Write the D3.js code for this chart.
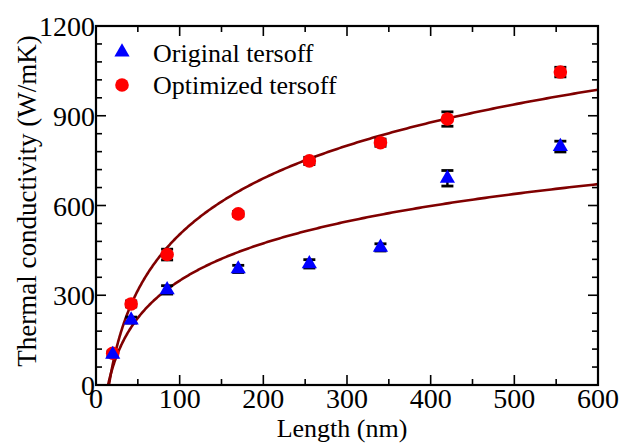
<!DOCTYPE html>
<html>
<head>
<meta charset="utf-8">
<script src="https://cdn.jsdelivr.net/npm/d3@7"></script>
<style>
  html, body { margin: 0; padding: 0; background: #fff; }
  svg { display: block; }
</style>
</head>
<body>
<svg id="chart" width="622" height="443"></svg>
<script>
// Sample lengths (nm)
const lengthNm = [20, 42, 85, 170, 255, 340, 420, 555];
// Thermal conductivity (W/mK) with the original Tersoff potential
const originalK   = [102, 217, 318, 388, 405, 460, 691, 797];
const originalErr = [8, 10, 14, 12, 14, 12, 26, 18];
// Thermal conductivity (W/mK) with the optimized Tersoff potential
const optimizedK   = [106, 271, 436, 572, 749, 810, 889, 1046];
const optimizedErr = [8, 10, 18, 8, 12, 12, 24, 16];
// Logarithmic fits k = a * ln(L / L0)
const fitOriginal  = [180, 14.4];
const fitOptimized = [270, 15.5];

const xTicks = [0, 100, 200, 300, 400, 500, 600];
const yTicks = [0, 300, 600, 900, 1200];
const seriesNames = ["Original tersoff", "Optimized tersoff"];

const plotL = 96, plotR = 598, plotT = 26, plotB = 385;
const serif = "'Liberation Serif', 'Times New Roman', Times, 'DejaVu Serif', serif";

const svg = d3.select("#chart");
const x = d3.scaleLinear().domain([0, 600]).range([plotL, plotR]);
const y = d3.scaleLinear().domain([0, 1200]).range([plotB, plotT]);

svg.append("defs").append("clipPath").attr("id", "plotClip")
  .append("rect").attr("x", plotL).attr("y", plotT)
  .attr("width", plotR - plotL).attr("height", plotB - plotT);

// Fit curves
const fitColor = "#800000";
const sampleL = d3.range(0, 401).map(i => 12 * Math.pow(600 / 12, i / 400));
const line = d3.line().x(d => x(d[0])).y(d => y(d[1]));
[fitOptimized, fitOriginal].forEach(([a, L0]) => {
  svg.append("path")
    .attr("clip-path", "url(#plotClip)")
    .attr("d", line(sampleL.map(L => [L, Math.max(a * Math.log(L / L0), -100)])))
    .attr("fill", "none")
    .attr("stroke", fitColor)
    .attr("stroke-width", 2.6);
});

// Error bars
function errorBars(vals, errs) {
  const g = svg.append("g").attr("stroke", "#000");
  lengthNm.forEach((L, i) => {
    const cx = x(L), y1 = y(vals[i] - errs[i]), y2 = y(vals[i] + errs[i]);
    g.append("line").attr("x1", cx).attr("x2", cx).attr("y1", y1).attr("y2", y2)
      .attr("stroke-width", 2.4);
    [y1, y2].forEach(yy => {
      g.append("line").attr("x1", cx - 6).attr("x2", cx + 6).attr("y1", yy).attr("y2", yy)
        .attr("stroke-width", 2.8);
    });
  });
}
errorBars(optimizedK, optimizedErr);
errorBars(originalK, originalErr);

// Markers
const tri = d3.symbol().type(d3.symbolTriangle).size(100);
svg.append("g").selectAll("circle").data(lengthNm).join("circle")
  .attr("cx", d => x(d))
  .attr("cy", (d, i) => y(optimizedK[i]))
  .attr("r", 6.8)
  .attr("fill", "#ff0000");
svg.append("g").selectAll("path").data(lengthNm).join("path")
  .attr("d", tri)
  .attr("transform", (d, i) => `translate(${x(d)},${y(originalK[i])})`)
  .attr("fill", "#0000ff");

// Axes: ticks point inward on all four sides
const frame = svg.append("g").attr("stroke", "#000").attr("stroke-width", 1.6);
function axisTicks(axis, scale, vals, len, pos) {
  vals.forEach(v => {
    const p = scale(v);
    if (axis === "x") {
      frame.append("line").attr("x1", p).attr("x2", p)
        .attr("y1", pos).attr("y2", pos === plotB ? pos - len : pos + len);
    } else {
      frame.append("line").attr("y1", p).attr("y2", p)
        .attr("x1", pos).attr("x2", pos === plotL ? pos + len : pos - len);
    }
  });
}
const xMinor = d3.range(50, 600, 100);
const yMinor = d3.range(0, 1200, 60).filter(v => v % 300 !== 0);
[plotB, plotT].forEach(p => {
  axisTicks("x", x, xTicks, 10, p);
  axisTicks("x", x, xMinor, 6, p);
});
[plotL, plotR].forEach(p => {
  axisTicks("y", y, yTicks, 10, p);
  axisTicks("y", y, yMinor, 6, p);
});
frame.append("rect")
  .attr("x", plotL).attr("y", plotT)
  .attr("width", plotR - plotL).attr("height", plotB - plotT)
  .attr("fill", "none").attr("stroke-width", 2.2);

// Tick labels
svg.append("g").selectAll("text").data(xTicks).join("text")
  .attr("x", d => x(d)).attr("y", plotB + 23)
  .attr("text-anchor", "middle")
  .style("font-family", serif).style("font-size", "28px")
  .text(d => d);
svg.append("g").selectAll("text").data(yTicks).join("text")
  .attr("x", plotL - 1).attr("y", d => y(d) + 10)
  .attr("text-anchor", "end")
  .style("font-family", serif).style("font-size", "28px")
  .text(d => d);

// Axis titles
svg.append("text")
  .attr("x", 342).attr("y", 437)
  .attr("text-anchor", "middle")
  .style("font-family", serif).style("font-size", "26px")
  .text("Length (nm)");
svg.append("text")
  .attr("transform", "translate(36,201) rotate(-90)")
  .attr("text-anchor", "middle")
  .style("font-family", serif).style("font-size", "27px")
  .text("Thermal conductivity (W/mK)");

// Legend
const legend = svg.append("g");
legend.append("path").attr("d", tri).attr("transform", "translate(122,52)").attr("fill", "#0000ff");
legend.append("circle").attr("cx", 122).attr("cy", 85).attr("r", 6.8).attr("fill", "#ff0000");
legend.append("text").attr("x", 153).attr("y", 62)
  .style("font-family", serif).style("font-size", "26px").text(seriesNames[0]);
legend.append("text").attr("x", 153).attr("y", 94)
  .style("font-family", serif).style("font-size", "26px").text(seriesNames[1]);
</script>
</body>
</html>
